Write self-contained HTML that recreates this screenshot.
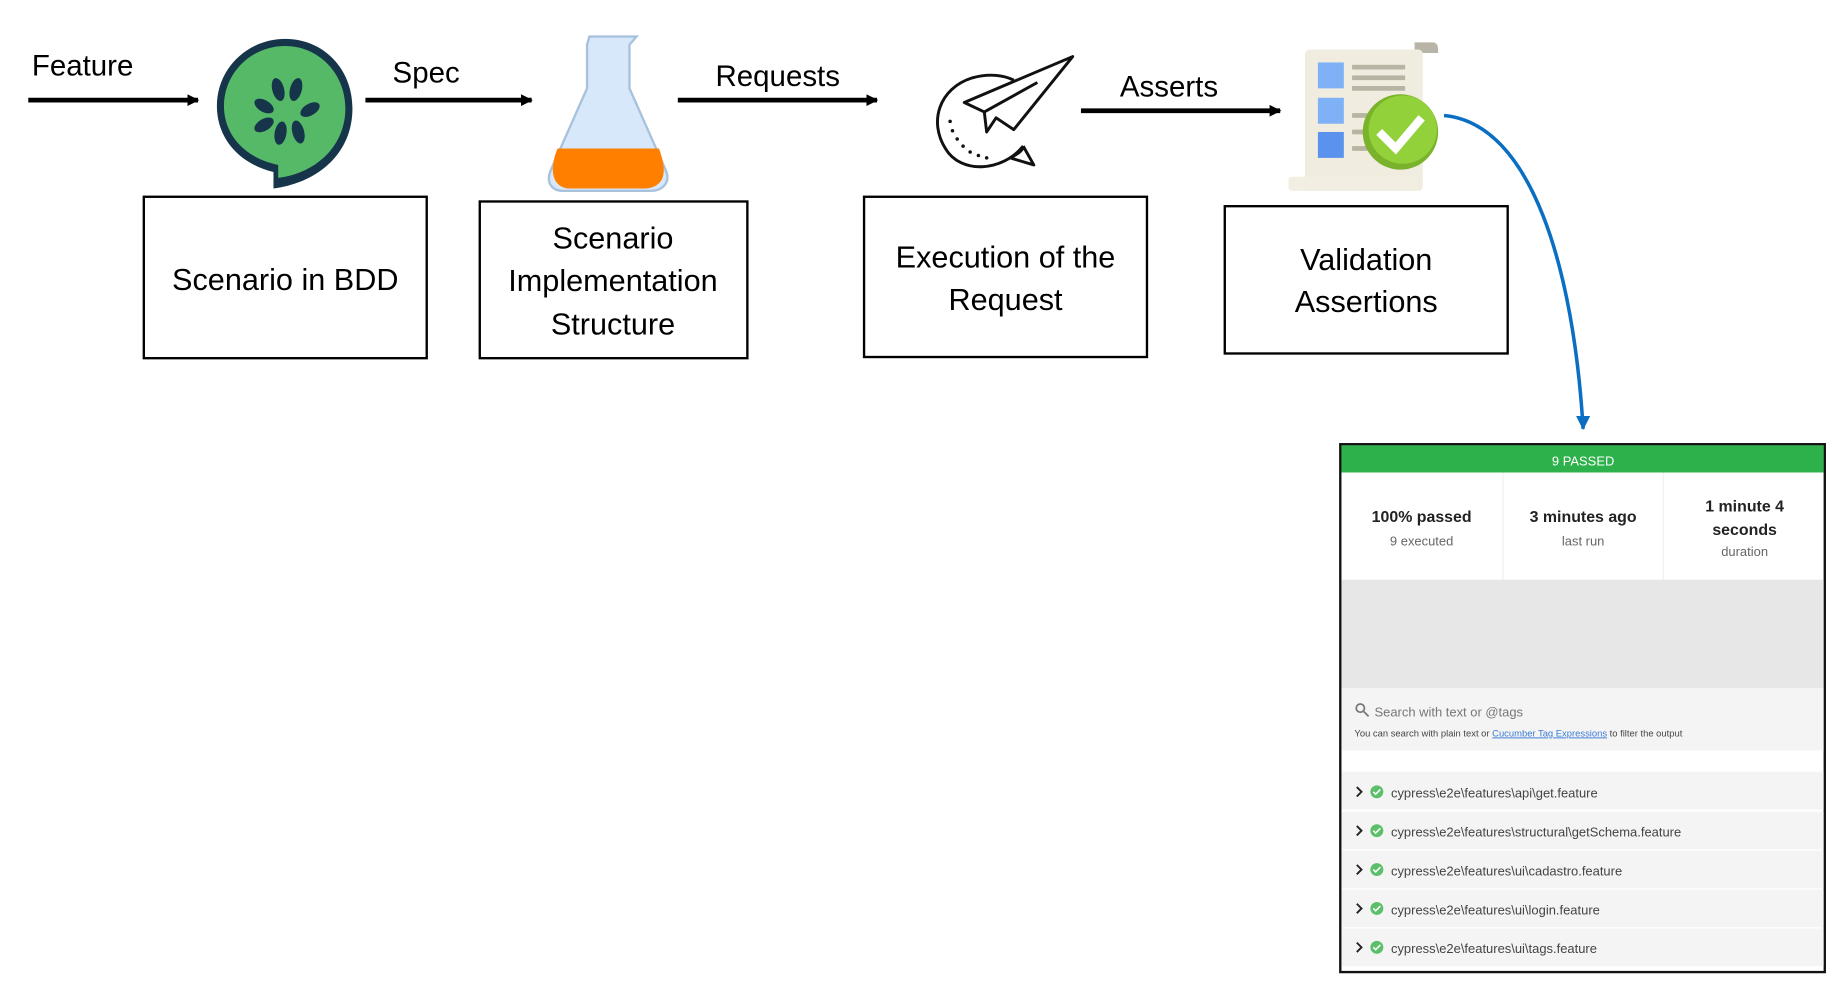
<!DOCTYPE html>
<html><head><meta charset="utf-8"><style>
html,body{margin:0;padding:0;background:#fff;width:1846px;height:998px;overflow:hidden}
svg{display:block}
text{font-family:"Liberation Sans",sans-serif}
</style></head><body>
<svg width="1846" height="998" viewBox="0 0 1566 847" preserveAspectRatio="none">
<defs>
<marker id="ah" markerWidth="10" markerHeight="10" refX="9" refY="5" orient="auto" markerUnits="userSpaceOnUse"><path d="M0,0 L10,5 L0,10 z" fill="#000"/></marker>
<marker id="bh" markerWidth="12" markerHeight="12" refX="6" refY="11" orient="0" markerUnits="userSpaceOnUse"><path d="M0,0 L12,0 L6,12 z" fill="#0a6fc2"/></marker>
</defs>
<text x="27" y="64" font-size="25">Feature</text>
<text x="333" y="70" font-size="25">Spec</text>
<text x="607" y="73" font-size="25">Requests</text>
<text x="950" y="82" font-size="25">Asserts</text>
<g stroke="#000" stroke-width="4">
<line x1="24" y1="85" x2="168" y2="85" marker-end="url(#ah)"/>
<line x1="310" y1="85" x2="451" y2="85" marker-end="url(#ah)"/>
<line x1="575" y1="85" x2="744" y2="85" marker-end="url(#ah)"/>
<line x1="917" y1="94" x2="1086" y2="94" marker-end="url(#ah)"/>
</g>
<path d="M232,160 L232,146 C200,138 184,115 184,90 C184,58 210,33 242,33 C274,33 299,58 299,92 C299,130 270,155 232,160 z" fill="#17354a"/>
<path d="M236,151 L236,140 C207,134 190,114 190,90 C190,62 213,39 242,39 C270,39 293,62 293,92 C293,124 268,147 236,151 z" fill="#56b968"/>
<g fill="#17354a">
<ellipse cx="236" cy="76" rx="5" ry="10" transform="rotate(-15 236 76)"/>
<ellipse cx="251" cy="76" rx="5" ry="10" transform="rotate(15 251 76)"/>
<ellipse cx="224" cy="90" rx="5" ry="9" transform="rotate(-60 224 90)"/>
<ellipse cx="263" cy="93" rx="5" ry="9" transform="rotate(60 263 93)"/>
<ellipse cx="224" cy="106" rx="5" ry="9" transform="rotate(60 224 106)"/>
<ellipse cx="238" cy="113" rx="5" ry="10" transform="rotate(10 238 113)"/>
<ellipse cx="253" cy="112" rx="5" ry="10" transform="rotate(-15 253 112)"/>
</g>
<path d="M500,31 L540,31 L534,38 L534,75 L565,145 C569,155 562,162 552,162 L478,162 C468,162 463,155 467,145 L498,75 L498,38 z" fill="#d7e8fb" stroke="#a9c2dc" stroke-width="2"/>
<path d="M473,126 L559,126 C566,145 565,158 548,160 L482,160 C466,158 467,140 473,126 z" fill="#ff8000"/>
<g fill="none" stroke="#111" stroke-width="2.5" stroke-linejoin="round">
<path d="M868,124 C850,146 815,148 802,126 C788,104 796,75 825,66 C840,62 852,64 860,68"/>
<path d="M868,124 L877,140 L857,134"/>
<path d="M857,134 C865,130 868,127 868,124"/>
<path d="M840,74 C855,84 872,72 877,80 C875,95 870,110 868,124" stroke="none"/>
<path d="M818,87 L910,48 L860,110 L845,100 L837,112 L835,95 z"/>
<path d="M835,95 L880,70"/>
</g>
<g fill="#111"><circle cx="806" cy="103" r="1.5"/><circle cx="808" cy="111" r="1.5"/><circle cx="812" cy="118" r="1.5"/><circle cx="817" cy="124" r="1.5"/><circle cx="823" cy="129" r="1.5"/><circle cx="830" cy="132" r="1.5"/><circle cx="837" cy="134" r="1.5"/></g>
<path d="M1200,36 L1215,36 C1220,36 1220,40 1220,45 L1200,45 z" fill="#b8b4a8"/>
<rect x="1107" y="42" width="100" height="120" rx="4" fill="#f0ede0"/>
<rect x="1093" y="150" width="110" height="12" rx="3" fill="#f2efe2"/>
<g fill="#7fb1f7"><rect x="1118" y="53" width="22" height="22"/><rect x="1118" y="83" width="22" height="22"/></g>
<rect x="1118" y="112" width="22" height="22" fill="#5a92ee"/>
<g fill="#b8b4a4"><rect x="1147" y="55" width="45" height="4"/><rect x="1147" y="64" width="45" height="4"/><rect x="1147" y="73" width="45" height="4"/><rect x="1147" y="96" width="30" height="4"/><rect x="1147" y="110" width="30" height="4"/><rect x="1147" y="124" width="30" height="4"/></g>
<circle cx="1188" cy="112" r="32" fill="#7ab32b"/>
<circle cx="1190" cy="110" r="29" fill="#92d13a"/>
<path d="M1170,112 L1184,126 L1206,100" fill="none" stroke="#fff" stroke-width="7"/>
<g fill="none" stroke="#000" stroke-width="2">
<rect x="122" y="167" width="240" height="137"/>
<rect x="407" y="171" width="227" height="133"/>
<rect x="733" y="167" width="240" height="136"/>
<rect x="1039" y="175" width="240" height="125"/>
</g>
<g font-size="26" text-anchor="middle">
<text x="242" y="246">Scenario in BDD</text>
<text x="520" y="211">Scenario</text>
<text x="520" y="247">Implementation</text>
<text x="520" y="284">Structure</text>
<text x="853" y="227">Execution of the</text>
<text x="853" y="263">Request</text>
<text x="1159" y="229">Validation</text>
<text x="1159" y="265">Assertions</text>
</g>
<path d="M1225,98 C1300,105 1335,230 1343,364" fill="none" stroke="#0a6fc2" stroke-width="3" marker-end="url(#bh)"/>
<rect x="1137" y="377" width="411" height="448" fill="#fff" stroke="#111" stroke-width="2"/>
<rect x="1138" y="378" width="409" height="23" fill="#2db14b"/>
<text x="1343" y="395" font-size="11" fill="#fff" text-anchor="middle">9 PASSED</text>
<line x1="1275" y1="401" x2="1275" y2="492" stroke="#eee"/>
<line x1="1411" y1="401" x2="1411" y2="492" stroke="#eee"/>
<g text-anchor="middle">
<text x="1206" y="443" font-size="13.5" font-weight="bold" fill="#222">100% passed</text>
<text x="1206" y="463" font-size="11" fill="#666">9 executed</text>
<text x="1343" y="443" font-size="13.5" font-weight="bold" fill="#222">3 minutes ago</text>
<text x="1343" y="463" font-size="11" fill="#666">last run</text>
<text x="1480" y="434" font-size="13.5" font-weight="bold" fill="#222">1 minute 4</text>
<text x="1480" y="454" font-size="13.5" font-weight="bold" fill="#222">seconds</text>
<text x="1480" y="472" font-size="11" fill="#666">duration</text>
</g>
<rect x="1138" y="492" width="409" height="92" fill="#e7e7e7"/>
<rect x="1138" y="584" width="409" height="53" fill="#f4f4f4"/>
<circle cx="1154" cy="601" r="3.5" fill="none" stroke="#777" stroke-width="1.5"/><line x1="1157" y1="604" x2="1161" y2="608" stroke="#777" stroke-width="1.5"/>
<text x="1166" y="608" font-size="11" fill="#777">Search with text or @tags</text>
<text x="1149" y="625" font-size="8" fill="#444">You can search with plain text or <tspan fill="#3a7bd5" text-decoration="underline">Cucumber Tag Expressions</tspan> to filter the output</text>
<g fill="#f4f4f4"><rect x="1138" y="655" width="409" height="32"/><rect x="1138" y="689" width="409" height="32"/><rect x="1138" y="722" width="409" height="32"/><rect x="1138" y="755" width="409" height="32"/><rect x="1138" y="788" width="409" height="32"/></g>
<g font-size="11" fill="#444">
<text x="1180" y="677">cypress\e2e\features\api\get.feature</text>
<text x="1180" y="710">cypress\e2e\features\structural\getSchema.feature</text>
<text x="1180" y="743">cypress\e2e\features\ui\cadastro.feature</text>
<text x="1180" y="776">cypress\e2e\features\ui\login.feature</text>
<text x="1180" y="809">cypress\e2e\features\ui\tags.feature</text>
</g>
<g fill="#5cbf6b"><circle cx="1168" cy="672" r="5.5"/><circle cx="1168" cy="705" r="5.5"/><circle cx="1168" cy="738" r="5.5"/><circle cx="1168" cy="771" r="5.5"/><circle cx="1168" cy="804" r="5.5"/></g>
<g fill="none" stroke="#222" stroke-width="1.6">
<path d="M1151,668 L1155,672 L1151,676"/><path d="M1151,701 L1155,705 L1151,709"/><path d="M1151,734 L1155,738 L1151,742"/><path d="M1151,767 L1155,771 L1151,775"/><path d="M1151,800 L1155,804 L1151,808"/>
</g>
<g fill="none" stroke="#fff" stroke-width="1.3">
<path d="M1165,672 L1167,674 L1171,670"/><path d="M1165,705 L1167,707 L1171,703"/><path d="M1165,738 L1167,740 L1171,736"/><path d="M1165,771 L1167,773 L1171,769"/><path d="M1165,804 L1167,806 L1171,802"/>
</g>
</svg>
</body></html>
